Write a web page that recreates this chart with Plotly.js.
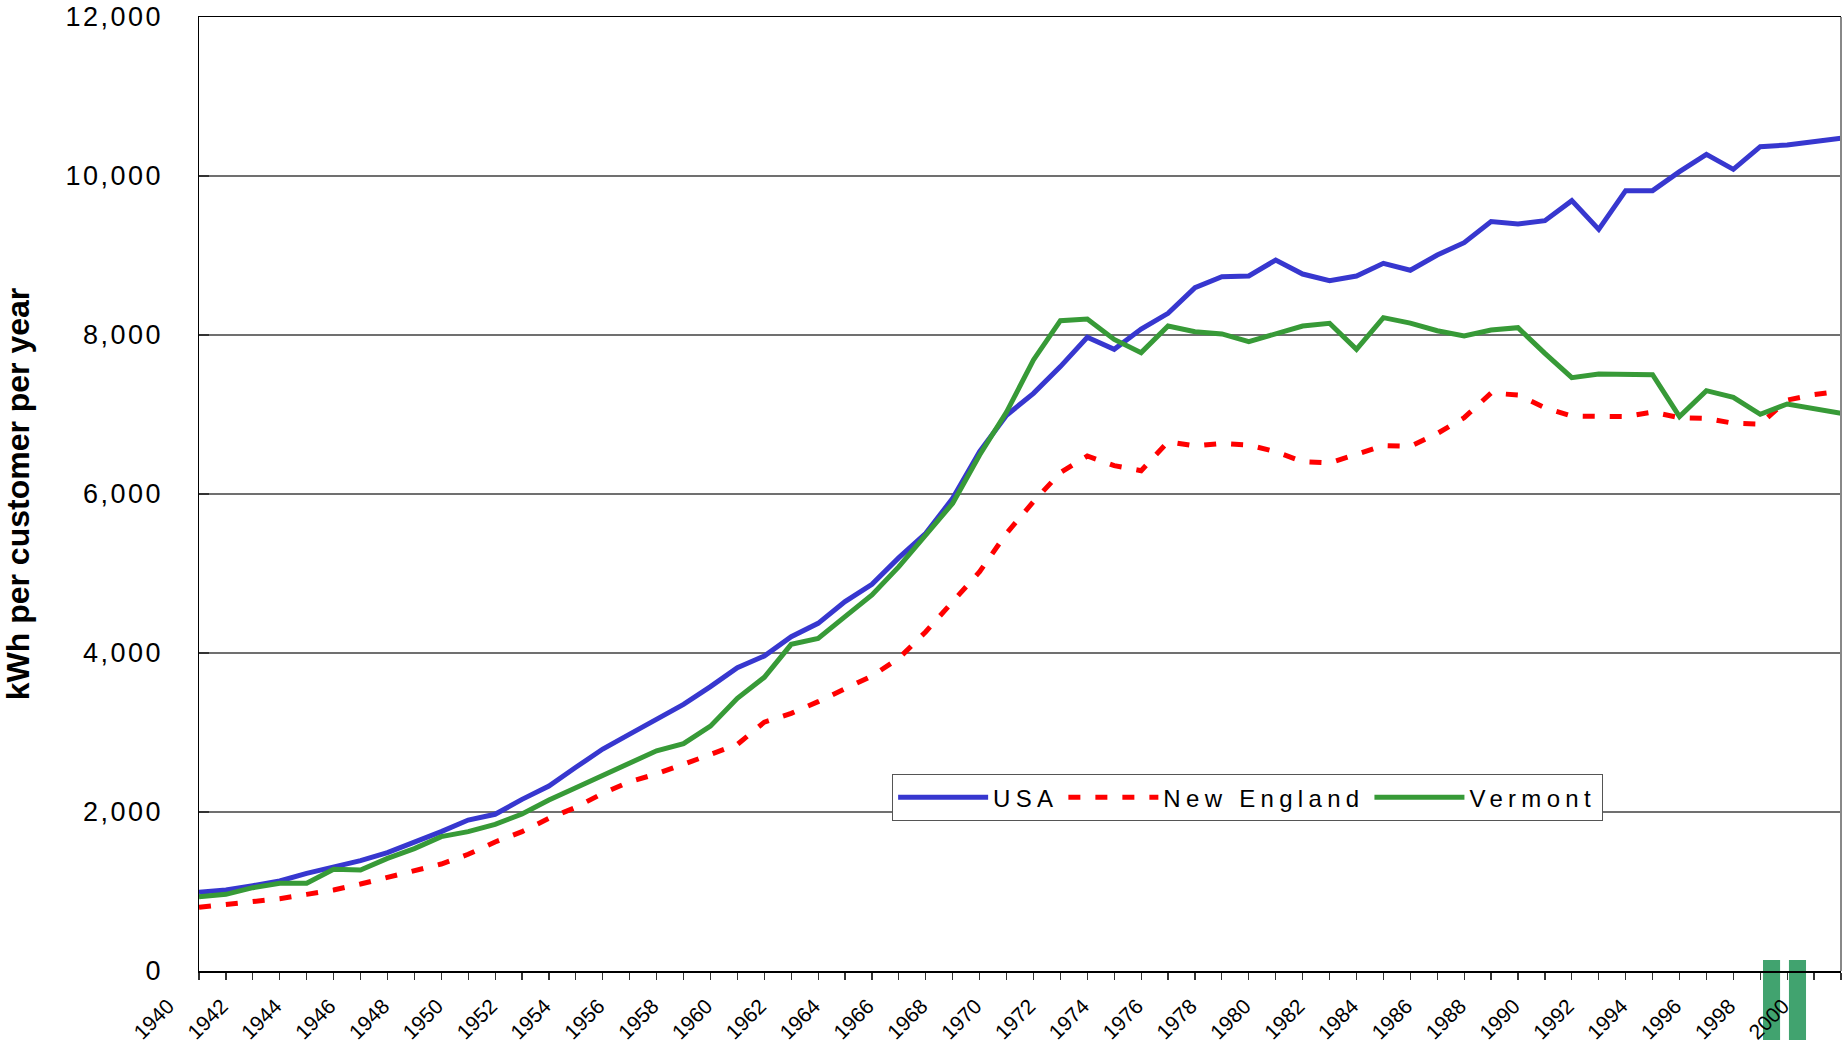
<!DOCTYPE html>
<html>
<head>
<meta charset="utf-8">
<script src="https://cdn.plot.ly/plotly-3.0.1.min.js"></script>
<style>
  html, body { margin: 0; padding: 0; background: #fff; }
  #chart { width: 1848px; height: 1048px; }
  .legendtext { letter-spacing: 5.3px; }
  .yaxislayer-above .ytick text { letter-spacing: 2.5px; }
</style>
</head>
<body>
<div id="chart"></div>
<script>
const years = [1940,1941,1942,1943,1944,1945,1946,1947,1948,1949,
  1950,1951,1952,1953,1954,1955,1956,1957,1958,1959,
  1960,1961,1962,1963,1964,1965,1966,1967,1968,1969,
  1970,1971,1972,1973,1974,1975,1976,1977,1978,1979,
  1980,1981,1982,1983,1984,1985,1986,1987,1988,1989,
  1990,1991,1992,1993,1994,1995,1996,1997,1998,1999,
  2000,2001];

const usa = [990,1020,1073,1132,1228,1304,1388,1488,1614,1753,
  1899,1971,2159,2327,2562,2792,2980,3166,3354,3577,
  3816,3962,4205,4373,4646,4864,5199,5505,5946,6533,
  6990,7266,7602,7971,7820,8075,8273,8595,8734,8742,
  8943,8767,8683,8742,8902,8815,9006,9161,9426,9396,
  9438,9690,9329,9816,9816,10055,10273,10084,10369,10390,
  10436,10474];

const newEngland = [801,834,872,910,964,1019,1094,1178,1262,1346,
  1468,1623,1753,1920,2059,2235,2380,2480,2600,2720,
  2850,3130,3241,3388,3543,3711,3933,4268,4646,5023,
  5505,5904,6268,6478,6356,6293,6658,6604,6637,6616,
  6532,6407,6390,6500,6610,6600,6760,6960,7270,7245,
  7085,6981,6981,6973,7030,6960,6950,6890,6880,7182,
  7250,7295];

const vermont = [935,964,1048,1103,1103,1279,1270,1417,1539,1690,
  1753,1845,1975,2151,2306,2465,2610,2770,2860,3080,
  3430,3694,4109,4184,4457,4730,5086,5484,5883,6491,
  7030,7686,8180,8201,7945,7778,8113,8042,8013,7916,
  8013,8113,8147,7820,8218,8150,8054,7987,8063,8092,
  7769,7463,7509,7509,7501,6973,7300,7216,7002,7132,
  7077,7015];

const seriesNames = ['USA', 'New England', 'Vermont'];
const tickLabels = years.map(y => (y % 2 === 0 && y <= 2000) ? String(y) : '');
const yTicks = [0, 2000, 4000, 6000, 8000, 10000, 12000];

const FONT = 'Liberation Sans, Arial, sans-serif';

const traces = [
  { x: years, y: usa, name: seriesNames[0], type: 'scatter', mode: 'lines',
    line: { color: '#3737CF', width: 5 } },
  { x: years, y: newEngland, name: seriesNames[1], type: 'scatter', mode: 'lines',
    line: { color: '#FF0000', width: 5, dash: '12px,15px' } },
  { x: years, y: vermont, name: seriesNames[2], type: 'scatter', mode: 'lines',
    line: { color: '#379A37', width: 5 } }
];

const layout = {
  width: 1848, height: 1048,
  margin: { l: 199, r: 7, t: 17, b: 77 },
  paper_bgcolor: '#ffffff', plot_bgcolor: 'rgba(0,0,0,0)',
  font: { family: FONT, color: '#000' },
  showlegend: true,
  legend: {
    orientation: 'h', x: 0.422, xanchor: 'left', y: 0.2065, yanchor: 'top',
    bgcolor: '#ffffff', bordercolor: '#555', borderwidth: 1.2,
    font: { family: FONT, size: 24, color: '#000' },
    itemwidth: 90, traceorder: 'normal'
  },
  xaxis: {
    type: 'linear', range: [1940, 2001],
    tickmode: 'array', tickvals: years, ticktext: tickLabels,
    tickangle: -45, tickfont: { family: FONT, size: 21, color: '#000' },
    ticks: 'outside', ticklen: 7, tickwidth: 1.2, tickcolor: '#333',
    ticklabelshift: -31, ticklabelstandoff: 6,
    showline: true, linecolor: '#000', linewidth: 1.5, mirror: true,
    showgrid: false, zeroline: false, fixedrange: true
  },
  yaxis: {
    range: [0, 12000], tickmode: 'array', tickvals: yTicks,
    tickformat: ',d',
    tickfont: { family: FONT, size: 27, color: '#000' },
    ticks: 'inside', ticklen: 10, tickwidth: 1.2, tickcolor: '#333',
    ticklabelstandoff: 29,
    showline: true, linecolor: '#000', linewidth: 1.5,
    showgrid: true, gridcolor: '#707070', gridwidth: 1.2,
    zeroline: false, fixedrange: true,
    title: { text: 'kWh per customer per year', standoff: 41,
      font: { family: FONT, size: 32, weight: 'bold', color: '#000' } }
  },
  shapes: [
    { type: 'line', xref: 'paper', yref: 'paper', x0: 1, x1: 1, y0: 0, y1: 1,
      line: { color: '#888888', width: 2 } },
    { type: 'rect', xref: 'paper', yref: 'paper', layer: 'below',
      x0: 0.9525, x1: 0.9629, y0: -0.0723, y1: 0.0115,
      fillcolor: '#41A36F', line: { width: 0 } },
    { type: 'rect', xref: 'paper', yref: 'paper', layer: 'below',
      x0: 0.9683, x1: 0.9787, y0: -0.0723, y1: 0.0115,
      fillcolor: '#41A36F', line: { width: 0 } }
  ]
};

Plotly.newPlot('chart', traces, layout, { staticPlot: true, displayModeBar: false });
</script>
</body>
</html>
